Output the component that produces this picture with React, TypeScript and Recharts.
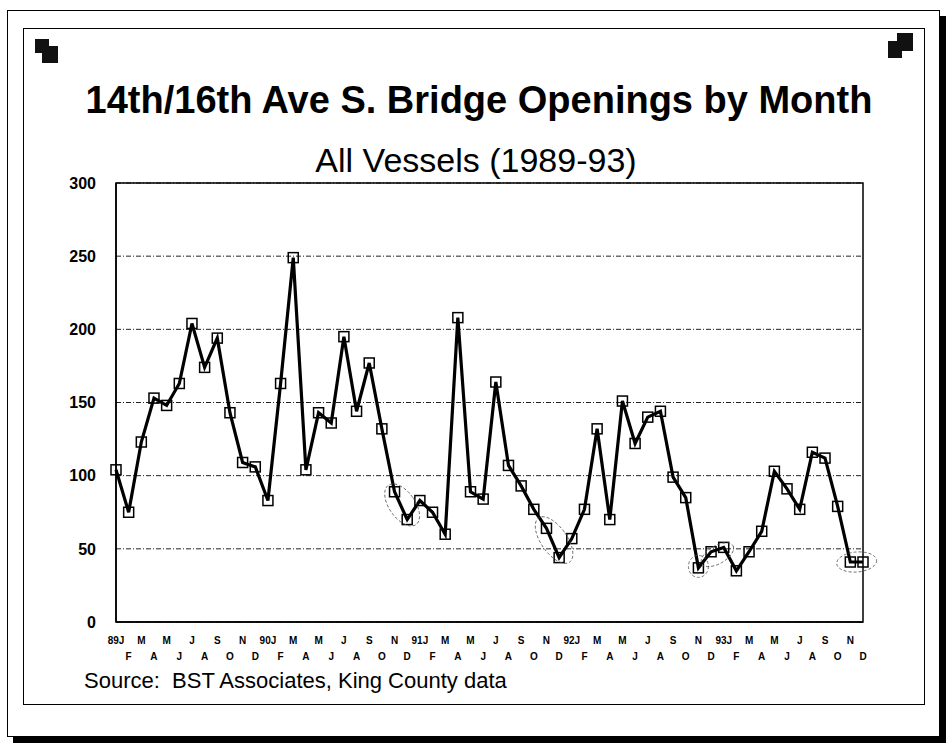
import React from 'react';
import { LineChart, Line, XAxis, YAxis, CartesianGrid, ReferenceArea, ReferenceDot } from 'recharts';

// month labels along the x axis (even ones on the top row, odd ones below)
const monthLabels = [
  '89J', 'F', 'M', 'A', 'M', 'J', 'J', 'A', 'S', 'O', 'N', 'D',
  '90J', 'F', 'M', 'A', 'M', 'J', 'J', 'A', 'S', 'O', 'N', 'D',
  '91J', 'F', 'M', 'A', 'M', 'J', 'J', 'A', 'S', 'O', 'N', 'D',
  '92J', 'F', 'M', 'A', 'M', 'J', 'J', 'A', 'S', 'O', 'N', 'D',
  '93J', 'F', 'M', 'A', 'M', 'J', 'J', 'A', 'S', 'O', 'N', 'D',
];

// bridge openings per month, all vessels
const openings1989 = [104, 75, 123, 153, 148, 163, 204, 174, 194, 143, 109, 106];
const openings1990 = [83, 163, 249, 104, 143, 136, 195, 144, 177, 132, 89, 70];
const openings1991 = [83, 75, 60, 208, 89, 84, 164, 107, 93, 77, 64, 44];
const openings1992 = [57, 77, 132, 70, 151, 122, 140, 144, 99, 85, 37, 48];
const openings1993 = [51, 35, 48, 62, 103, 91, 77, 116, 112, 79, 41, 41];

const yTicks = [0, 50, 100, 150, 200, 250, 300];

// hand-drawn pencil rings on the scan: [month index, value, rx, ry, rotation]
const rings: [number, number, number, number, number][] = [
  [22.6, 80, 13, 24, -35],
  [34.6, 56, 13, 27, -35],
  [46, 38, 10, 11, 0],
  [47.5, 46, 18, 9, -30],
  [58.5, 41, 20, 10, -5],
];

const openings = [...openings1989, ...openings1990, ...openings1991, ...openings1992, ...openings1993];
const data = openings.map((v, i) => ({ idx: i, openings: v }));
const xTicks = data.map((d) => d.idx);

const FONT = '"Liberation Sans", Arial, Helvetica, sans-serif';

const MonthTick = (props: any) => {
  const { x, y, payload } = props;
  const i = payload.value as number;
  const lower = i % 2 === 1;
  return (
    <text
      x={x}
      y={y + (lower ? 38 : 22)}
      textAnchor="middle"
      fontFamily={FONT}
      fontSize={10}
      fontWeight="bold"
      fill="#000"
    >
      {monthLabels[i]}
    </text>
  );
};

const SquareDot = (props: any) => {
  const { cx, cy, index } = props;
  if (cx == null || cy == null) return null;
  return (
    <rect
      key={`sq-${index}`}
      x={cx - 5}
      y={cy - 5}
      width={10}
      height={10}
      fill="none"
      stroke="#000"
      strokeWidth={1.5}
    />
  );
};

const ringShape = (rx: number, ry: number, rot: number) => (props: any) => {
  const { cx, cy } = props;
  if (cx == null || cy == null) return <g />;
  return (
    <ellipse
      cx={cx}
      cy={cy}
      rx={rx}
      ry={ry}
      transform={`rotate(${rot} ${cx} ${cy})`}
      fill="none"
      stroke="#555"
      strokeWidth={0.8}
      strokeDasharray="3 2"
    />
  );
};

export default function App() {
  return (
    <div style={{ position: 'absolute', left: 0, top: 0, width: 948, height: 743, background: '#fff', overflow: 'hidden' }}>
      {/* outer frame with drop shadow */}
      <div
        style={{
          position: 'absolute',
          left: 7,
          top: 10,
          width: 931,
          height: 725,
          border: '1.5px solid #000',
          boxShadow: '6px 6px 0 0 #000',
        }}
      />
      {/* inner frame */}
      <div
        style={{
          position: 'absolute',
          left: 23,
          top: 28,
          width: 900,
          height: 675,
          border: '1.5px solid #000',
          background: '#fff',
        }}
      />
      {/* corner icons */}
      <div style={{ position: 'absolute', left: 35, top: 39, width: 14, height: 14, background: '#111' }} />
      <div style={{ position: 'absolute', left: 42, top: 46, width: 16, height: 17, background: '#111' }} />
      <div style={{ position: 'absolute', left: 897, top: 33, width: 16, height: 18, background: '#111' }} />
      <div style={{ position: 'absolute', left: 888, top: 41, width: 14, height: 17, background: '#111' }} />

      <div style={{ position: 'absolute', left: 0, top: 0 }}>
        <LineChart
          width={948}
          height={743}
          data={data}
          margin={{ top: 183, right: 85, bottom: 81, left: 56 }}
        >
          <CartesianGrid
            horizontal
            vertical={false}
            stroke="#222"
            strokeWidth={1}
            strokeDasharray="5 2 1 2"
          />
          <ReferenceArea x1={0} x2={59} y1={0} y2={300} fill="none" stroke="#000" strokeWidth={1.5} />
          <XAxis
            dataKey="idx"
            type="number"
            domain={[0, 59]}
            ticks={xTicks}
            interval={0}
            height={40}
            axisLine={{ stroke: '#000', strokeWidth: 1.5 }}
            tickLine={false}
            tickSize={0}
            tickMargin={0}
            tick={<MonthTick />}
          />
          <YAxis
            domain={[0, 300]}
            ticks={yTicks}
            width={60}
            axisLine={{ stroke: '#000', strokeWidth: 1.5 }}
            tickLine={false}
            tickSize={0}
            tickMargin={20}
            tick={{ fill: '#000', fontSize: 16, fontWeight: 'bold', fontFamily: FONT }}
          />
          <Line
            type="linear"
            dataKey="openings"
            stroke="#000"
            strokeWidth={3.2}
            dot={<SquareDot />}
            activeDot={false}
            isAnimationActive={false}
          />
          {rings.map(([i, v, rx, ry, rot], k) => (
            <ReferenceDot key={`ring-${k}`} x={i} y={v} shape={ringShape(rx, ry, rot)} />
          ))}
        </LineChart>
      </div>

      <svg width={948} height={743} style={{ position: 'absolute', left: 0, top: 0, pointerEvents: 'none' }}>
        <text x={479} y={113} textAnchor="middle" fontFamily={FONT} fontWeight="bold" fontSize={38} fill="#000">
          14th/16th Ave S. Bridge Openings by Month
        </text>
        <text x={476} y={172} textAnchor="middle" fontFamily={FONT} fontSize={34} fill="#000">
          All Vessels (1989-93)
        </text>
        <text x={84} y={688} fontFamily={FONT} fontSize={22} fill="#000">
          Source:{'\u00a0\u00a0'}BST Associates, King County data
        </text>
      </svg>
    </div>
  );
}
